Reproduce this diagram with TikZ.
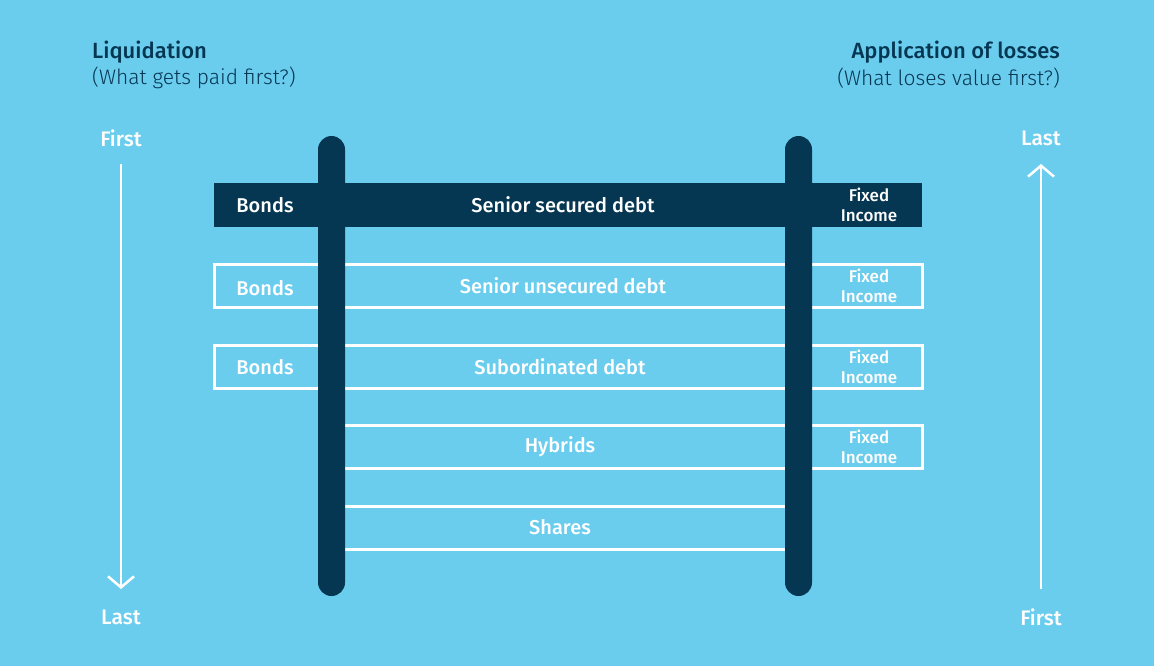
\documentclass[tikz,border=0pt]{standalone}
\usepackage{fontspec}
\setmainfont{Fira Sans}[BoldFont={Fira Sans Medium}]
\newfontfamily\lightfont{Fira Sans Light}
\usetikzlibrary{arrows.meta}
\definecolor{bg}{HTML}{6BCDEE}
\definecolor{navy}{HTML}{053753}
\tikzset{
  lbl/.style={text=white,font=\fontsize{20}{22}\selectfont\bfseries,inner sep=0pt},
  fi/.style={text=white,font=\fontsize{17}{20}\selectfont\bfseries,align=center,inner sep=0pt},
  outl/.style={draw=white,line width=3pt},
  pillar/.style={fill=navy,rounded corners=13.5pt},
  flow/.style={draw=white,line width=2.5pt,-{Straight Barb[length=11pt,width=26pt,line width=2.5pt]}},
  head/.style={text=navy,font=\fontsize{22}{24}\selectfont\bfseries,inner sep=0pt},
  sub/.style={text=navy,font=\fontsize{21}{24}\selectfont\lightfont,inner sep=0pt},
  end/.style={text=white,font=\fontsize{21}{24}\selectfont\bfseries,inner sep=0pt}
}
\begin{document}
\begin{tikzpicture}[x=1pt,y=-1pt]
\fill[bg] (0,0) rectangle (1154,666);
\useasboundingbox (0,0) rectangle (1154,666);
% rows
\fill[navy] (214,183) rectangle (922,227);
\draw[outl] (214.5,264.5) rectangle (922.5,307.5);
\draw[outl] (214.5,345) rectangle (922.5,388);
\draw[outl] (330,425.5) rectangle (922.5,468.5);
\draw[outl] (330,506) rectangle (800,549);
% pillars
\fill[pillar] (318,136) rectangle (345,596);
\fill[pillar] (785,136) rectangle (812,596);
% labels
\node[lbl] (b1) at (265,205) {Bonds};
\node[lbl] (b2) at (265,288) {Bonds};
\node[lbl] (b3) at (265,367) {Bonds};
\node[lbl] (r1) at (563,205) {Senior secured debt};
\node[lbl] (r2) at (563,286) {Senior unsecured debt};
\node[lbl] (r3) at (560,367) {Subordinated debt};
\node[lbl] (r4) at (560,447) {Hybrids};
\node[lbl] (r5) at (560,527) {Shares};
\node[fi] (f1) at (869,205) {Fixed\\Income};
\node[fi] (f2) at (869,286) {Fixed\\Income};
\node[fi] (f3) at (869,367) {Fixed\\Income};
\node[fi] (f4) at (869,447) {Fixed\\Income};
% headings
\node[head,anchor=west] (h1) at (92,52) {Liquidation};
\node[sub,anchor=west] (s1) at (92,78) {(What gets paid first?)};
\node[head,anchor=east] (h2) at (1060,52) {Application of losses};
\node[sub,anchor=east] (s2) at (1060,78) {(What loses value first?)};
% ends
\node[end] (lf) at (121,138) {First};
\node[end] (ll) at (121,617) {Last};
\node[end] (rl) at (1041,138) {Last};
\node[end] (rf) at (1041,617) {First};
\coordinate (la) at (121,164);
\coordinate (lb) at (121,589);
\coordinate (ra) at (1041,589);
\coordinate (rb) at (1041,164);
\draw[flow] (la) -- (lb);
\draw[flow] (ra) -- (rb);
\end{tikzpicture}
\end{document}
